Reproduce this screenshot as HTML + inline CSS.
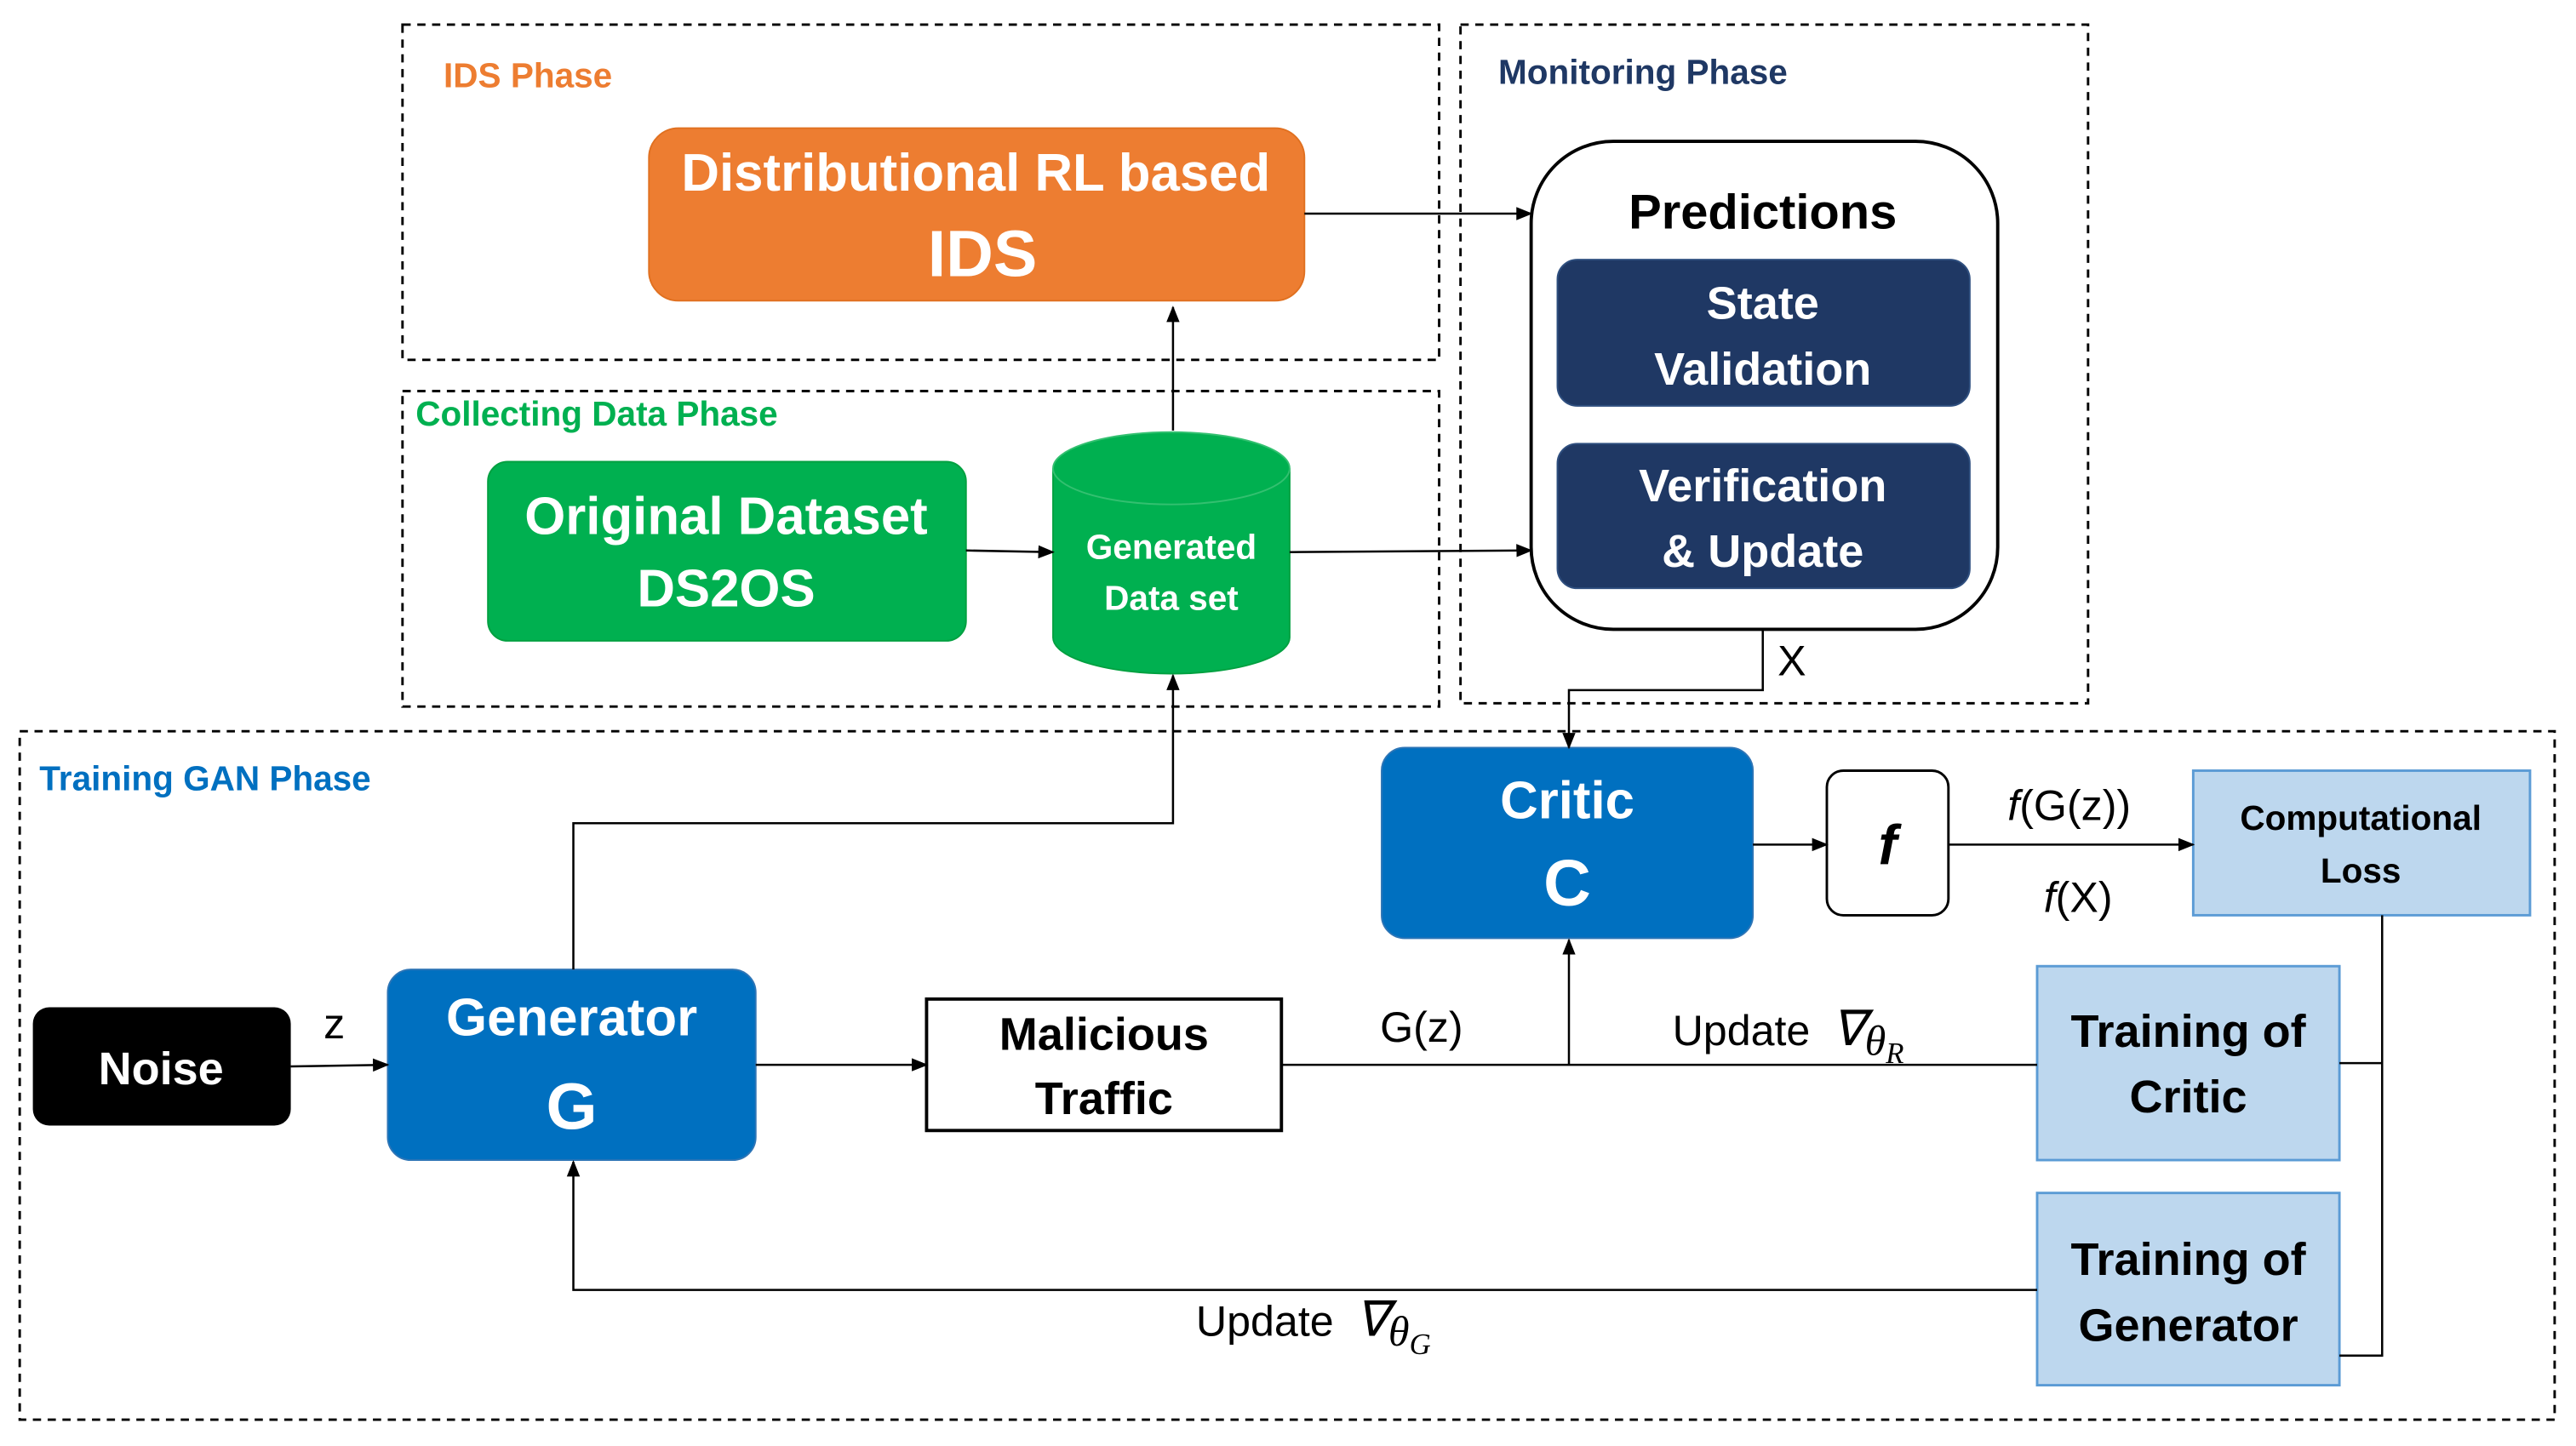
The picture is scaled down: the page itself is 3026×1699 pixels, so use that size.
<!DOCTYPE html>
<html><head><meta charset="utf-8"><style>html,body{margin:0;padding:0;background:#fff}svg{display:block}text{font-family:"Liberation Sans",sans-serif}</style></head><body>
<svg width="3026" height="1699" viewBox="0 0 1568 880" preserveAspectRatio="none" xmlns="http://www.w3.org/2000/svg">
<defs><marker id="a" markerWidth="10" markerHeight="10" refX="9" refY="5" orient="auto" markerUnits="userSpaceOnUse"><path d="M0,1 L10,5 L0,9 z" fill="#000"/></marker></defs>
<g fill="none" stroke="#000" stroke-width="1.5" stroke-dasharray="5,4">
<rect x="245" y="15" width="631" height="204"/>
<rect x="889" y="15" width="382" height="413"/>
<rect x="245" y="238" width="631" height="192"/>
<rect x="12" y="445" width="1543" height="419"/>
</g>
<g font-weight="bold" font-size="21">
<text x="270" y="53" fill="#ED7D31">IDS Phase</text>
<text x="912" y="51" fill="#1F3864">Monitoring Phase</text>
<text x="253" y="259" fill="#00B050">Collecting Data Phase</text>
<text x="24" y="481" fill="#0070C0">Training GAN Phase</text>
</g>
<rect x="395" y="78" width="399" height="105" rx="18" fill="#ED7D31" stroke="#E07020"/>
<text x="594" y="116" font-size="32" font-weight="bold" fill="#fff" text-anchor="middle">Distributional RL based</text>
<text x="598" y="168" font-size="40" font-weight="bold" fill="#fff" text-anchor="middle">IDS</text>
<rect x="932" y="86" width="284" height="297" rx="50" fill="#fff" stroke="#000" stroke-width="2"/>
<text x="1073" y="139" font-size="30" font-weight="bold" text-anchor="middle">Predictions</text>
<rect x="948" y="158" width="251" height="89" rx="12" fill="#1F3864" stroke="#2F4F7F"/>
<text x="1073" y="194" font-size="28" font-weight="bold" fill="#fff" text-anchor="middle">State</text>
<text x="1073" y="234" font-size="28" font-weight="bold" fill="#fff" text-anchor="middle">Validation</text>
<rect x="948" y="270" width="251" height="88" rx="12" fill="#1F3864" stroke="#2F4F7F"/>
<text x="1073" y="305" font-size="28" font-weight="bold" fill="#fff" text-anchor="middle">Verification</text>
<text x="1073" y="345" font-size="28" font-weight="bold" fill="#fff" text-anchor="middle">&amp; Update</text>
<rect x="297" y="281" width="291" height="109" rx="12" fill="#00B050" stroke="#00A040"/>
<text x="442" y="325" font-size="32" font-weight="bold" fill="#fff" text-anchor="middle">Original Dataset</text>
<text x="442" y="369" font-size="32" font-weight="bold" fill="#fff" text-anchor="middle">DS2OS</text>
<path d="M641,285 L641,388 A72,22 0 0 0 785,388 L785,285" fill="#00B050" stroke="#00A040"/>
<ellipse cx="713" cy="285" rx="72" ry="22" fill="#00B050" stroke="#33C070"/>
<text x="713" y="340" font-size="21" font-weight="bold" fill="#fff" text-anchor="middle">Generated</text>
<text x="713" y="371" font-size="21" font-weight="bold" fill="#fff" text-anchor="middle">Data set</text>
<rect x="841" y="455" width="226" height="116" rx="14" fill="#0070C0" stroke="#2E75B6"/>
<text x="954" y="498" font-size="32" font-weight="bold" fill="#fff" text-anchor="middle">Critic</text>
<text x="954" y="551" font-size="40" font-weight="bold" fill="#fff" text-anchor="middle">C</text>
<rect x="1112" y="469" width="74" height="88" rx="10" fill="#fff" stroke="#000" stroke-width="1.5"/>
<text x="1149" y="526" font-size="34" font-weight="bold" font-style="italic" font-family="Liberation Serif,serif" text-anchor="middle">f</text>
<rect x="1335" y="469" width="205" height="88" fill="#BDD7EE" stroke="#5B9BD5" stroke-width="1.5"/>
<text x="1437" y="505" font-size="21" font-weight="bold" text-anchor="middle">Computational</text>
<text x="1437" y="537" font-size="21" font-weight="bold" text-anchor="middle">Loss</text>
<rect x="20" y="613" width="157" height="72" rx="10" fill="#000"/>
<text x="98" y="660" font-size="28" font-weight="bold" fill="#fff" text-anchor="middle">Noise</text>
<rect x="236" y="590" width="224" height="116" rx="14" fill="#0070C0" stroke="#2E75B6"/>
<text x="348" y="630" font-size="32" font-weight="bold" fill="#fff" text-anchor="middle">Generator</text>
<text x="348" y="687" font-size="40" font-weight="bold" fill="#fff" text-anchor="middle">G</text>
<rect x="564" y="608" width="216" height="80" fill="#fff" stroke="#000" stroke-width="2"/>
<text x="672" y="639" font-size="28" font-weight="bold" text-anchor="middle">Malicious</text>
<text x="672" y="678" font-size="28" font-weight="bold" text-anchor="middle">Traffic</text>
<rect x="1240" y="588" width="184" height="118" fill="#BDD7EE" stroke="#5B9BD5" stroke-width="1.5"/>
<text x="1332" y="637" font-size="28" font-weight="bold" text-anchor="middle">Training of</text>
<text x="1332" y="677" font-size="28" font-weight="bold" text-anchor="middle">Critic</text>
<rect x="1240" y="726" width="184" height="117" fill="#BDD7EE" stroke="#5B9BD5" stroke-width="1.5"/>
<text x="1332" y="776" font-size="28" font-weight="bold" text-anchor="middle">Training of</text>
<text x="1332" y="816" font-size="28" font-weight="bold" text-anchor="middle">Generator</text>
<g fill="none" stroke="#000" stroke-width="1.3">
<path d="M794,130 L932,130" marker-end="url(#a)"/>
<path d="M714,262 L714,187" marker-end="url(#a)"/>
<path d="M588,335 L641,336" marker-end="url(#a)"/>
<path d="M785,336 L932,335" marker-end="url(#a)"/>
<path d="M1073,383 L1073,420 L955,420 L955,455" marker-end="url(#a)"/>
<path d="M349,590 L349,501 L714,501 L714,411" marker-end="url(#a)"/>
<path d="M177,649 L236,648" marker-end="url(#a)"/>
<path d="M460,648 L564,648" marker-end="url(#a)"/>
<path d="M780,648 L1240,648"/>
<path d="M955,648 L955,572" marker-end="url(#a)"/>
<path d="M1067,514 L1112,514" marker-end="url(#a)"/>
<path d="M1186,514 L1335,514" marker-end="url(#a)"/>
<path d="M1450,557 L1450,825 L1424,825 M1450,647 L1424,647"/>
<path d="M1240,785 L349,785 L349,707" marker-end="url(#a)"/>
</g>
<g font-size="26">
<text x="1082" y="411">X</text>
<text x="197" y="632">z</text>
<text x="840" y="634">G(z)</text>
<text x="1018" y="636">Update <tspan font-family="Liberation Serif,serif" font-style="italic" font-size="30" dx="6">∇</tspan><tspan font-family="Liberation Serif,serif" font-style="italic" font-size="26" dy="6">θ</tspan><tspan font-family="Liberation Serif,serif" font-style="italic" font-size="18" dy="5">R</tspan></text>
<text x="728" y="813">Update <tspan font-family="Liberation Serif,serif" font-style="italic" font-size="30" dx="6">∇</tspan><tspan font-family="Liberation Serif,serif" font-style="italic" font-size="26" dy="6">θ</tspan><tspan font-family="Liberation Serif,serif" font-style="italic" font-size="18" dy="5">G</tspan></text>
<text x="1222" y="499"><tspan font-style="italic">f</tspan>(G(z))</text>
<text x="1244" y="555"><tspan font-style="italic">f</tspan>(X)</text>
</g>
</svg>
</body></html>
